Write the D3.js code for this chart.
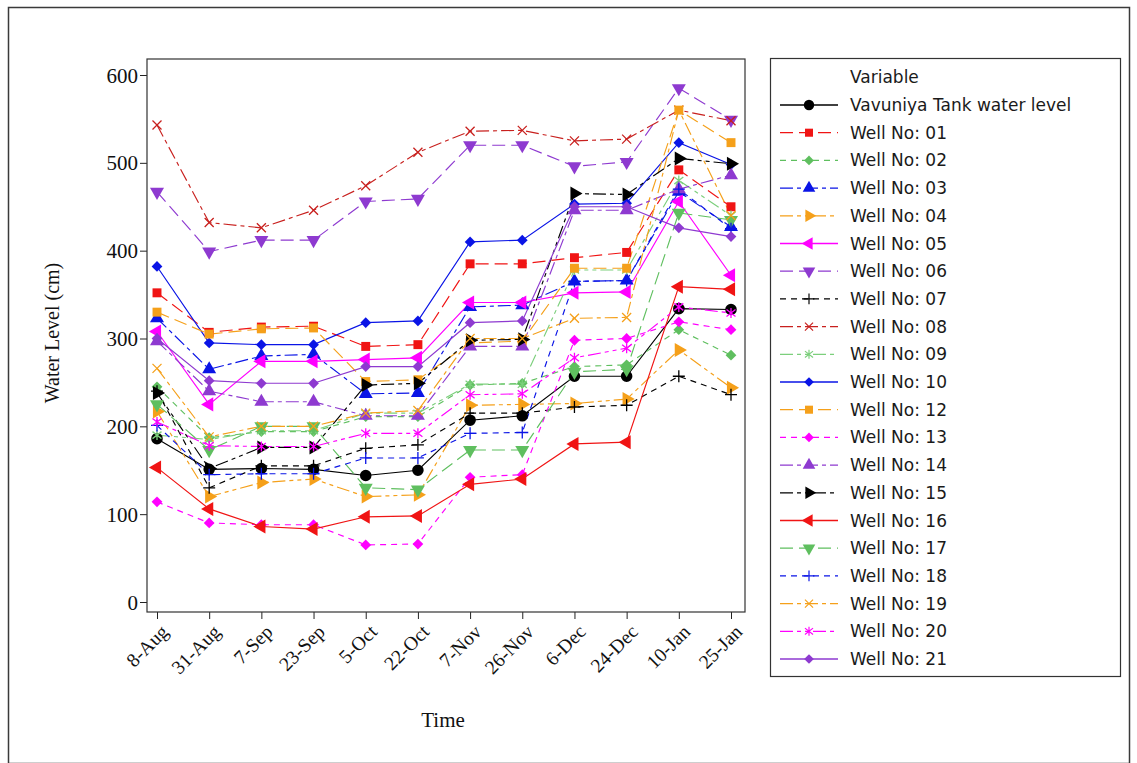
<!DOCTYPE html>
<html>
<head>
<meta charset="utf-8">
<script src="https://cdn.jsdelivr.net/npm/d3@7"></script>
<style>
  body { margin: 0; background: #fff; }
  svg { display: block; }
</style>
</head>
<body>
<svg id="chart" width="1137" height="763"></svg>
<script>
// sampling dates
const dates = ['8-Aug', '31-Aug', '7-Sep', '23-Sep', '5-Oct', '22-Oct', '7-Nov', '26-Nov', '6-Dec', '24-Dec', '10-Jan', '25-Jan'];
const yTicks = [0, 100, 200, 300, 400, 500, 600];

// water levels (cm)
const tank   = [186, 151, 152, 151, 144, 150, 207, 212, 257, 257, 334, 333];
const well01 = [352, 307, 313, 314, 291, 293, 385, 385, 392, 398, 492, 450];
const well02 = [245, 187, 194, 194, 211, 211, 247, 249, 268, 270, 310, 281];
const well03 = [323, 265, 280, 282, 237, 238, 336, 338, 365, 366, 467, 427];
const well04 = [217, 120, 136, 140, 120, 122, 224, 225, 226, 231, 287, 244];
const well05 = [308, 225, 274, 274, 276, 278, 341, 341, 352, 353, 456, 372];
const well06 = [467, 399, 412, 412, 456, 459, 520, 520, 496, 501, 585, 549];
const well07 = [240, 130, 155, 155, 175, 179, 215, 215, 222, 224, 257, 236];
const well08 = [543, 432, 426, 446, 474, 512, 536, 537, 525, 527, 560, 548];
const well09 = [190, 185, 195, 195, 215, 215, 248, 248, 378, 378, 480, 440];
const well10 = [382, 295, 293, 293, 318, 320, 410, 412, 453, 454, 523, 498];
const well12 = [330, 305, 311, 312, 251, 253, 295, 297, 380, 380, 560, 523];
const well13 = [114, 90, 88, 88, 65, 66, 142, 145, 298, 300, 319, 310];
const well14 = [297, 240, 228, 228, 212, 212, 291, 291, 446, 446, 470, 486];
const well15 = [238, 152, 176, 176, 247, 249, 298, 299, 465, 464, 505, 499];
const well16 = [153, 106, 86, 83, 97, 98, 134, 140, 180, 182, 359, 356];
const well17 = [225, 173, 200, 200, 130, 128, 173, 173, 262, 265, 443, 435];
const well18 = [201, 145, 146, 146, 164, 164, 192, 193, 365, 366, 470, 425];
const well19 = [266, 188, 200, 200, 215, 218, 300, 300, 323, 324, 560, 440];
const well20 = [205, 178, 177, 177, 192, 192, 236, 237, 278, 289, 336, 329];
const well21 = [300, 252, 249, 249, 268, 268, 318, 320, 450, 450, 426, 416];

const C = {
    black: '#000000', red: '#f01414', dred: '#c8201e', green: '#5fbf5f', lgreen: '#7ccf7c',
    blue: '#0a14e6', orange: '#f5a01a', magenta: '#ff00ff', purple: '#8e3ad0'
};
const DASH = {
    solid: null, long: '13,6', short: '6,5', dashDot: '13,4,4,4', dashDotDot: '13,4,4,4,4,4'
};

const series = [
    {name: 'Vavuniya Tank water level', values: tank, color: C.black, dash: 'solid', shape: 'circle'},
    {name: 'Well No: 01', values: well01, color: C.red, dash: 'long', shape: 'square'},
    {name: 'Well No: 02', values: well02, color: C.green, dash: 'short', shape: 'diamond'},
    {name: 'Well No: 03', values: well03, color: C.blue, dash: 'dashDot', shape: 'triUp'},
    {name: 'Well No: 04', values: well04, color: C.orange, dash: 'dashDotDot', shape: 'triRight'},
    {name: 'Well No: 05', values: well05, color: C.magenta, dash: 'solid', shape: 'triLeft'},
    {name: 'Well No: 06', values: well06, color: C.purple, dash: 'long', shape: 'triDown'},
    {name: 'Well No: 07', values: well07, color: C.black, dash: 'short', shape: 'plus'},
    {name: 'Well No: 08', values: well08, color: C.dred, dash: 'dashDot', shape: 'x'},
    {name: 'Well No: 09', values: well09, color: C.lgreen, dash: 'dashDotDot', shape: 'star'},
    {name: 'Well No: 10', values: well10, color: C.blue, dash: 'solid', shape: 'diamond'},
    {name: 'Well No: 12', values: well12, color: C.orange, dash: 'long', shape: 'square'},
    {name: 'Well No: 13', values: well13, color: C.magenta, dash: 'short', shape: 'diamond'},
    {name: 'Well No: 14', values: well14, color: C.purple, dash: 'dashDot', shape: 'triUp'},
    {name: 'Well No: 15', values: well15, color: C.black, dash: 'dashDotDot', shape: 'triRight'},
    {name: 'Well No: 16', values: well16, color: C.red, dash: 'solid', shape: 'triLeft'},
    {name: 'Well No: 17', values: well17, color: C.green, dash: 'long', shape: 'triDown'},
    {name: 'Well No: 18', values: well18, color: C.blue, dash: 'short', shape: 'plus'},
    {name: 'Well No: 19', values: well19, color: C.orange, dash: 'dashDot', shape: 'x'},
    {name: 'Well No: 20', values: well20, color: C.magenta, dash: 'dashDotDot', shape: 'star'},
    {name: 'Well No: 21', values: well21, color: C.purple, dash: 'solid', shape: 'diamond'}
];

const svg = d3.select('#chart');
const frame = {left: 147, right: 745, top: 59, bottom: 612};

// outer border
svg.append('rect').attr('x', 8.5).attr('y', 7.5).attr('width', 1121).attr('height', 756)
    .attr('fill', 'none').attr('stroke', '#3a3a3a').attr('stroke-width', 1.5);

const x = d3.scalePoint().domain(dates).range([157, 731]);
const y = d3.scaleLinear().domain([0, 600]).range([602, 75]);

// axes
const yAxis = svg.append('g').attr('transform', 'translate(' + frame.left + ',0)')
    .call(d3.axisLeft(y).tickValues(yTicks).tickSize(7).tickSizeOuter(0));
yAxis.select('.domain').remove();
yAxis.selectAll('line').attr('stroke', '#222');
yAxis.selectAll('text').attr('font-family', '"Liberation Serif", serif').attr('font-size', 21)
    .attr('fill', '#111').attr('x', -9).attr('dy', '0.34em');

const xAxis = svg.append('g').attr('transform', 'translate(0,' + frame.bottom + ')')
    .call(d3.axisBottom(x).tickSize(7).tickSizeOuter(0));
xAxis.select('.domain').remove();
xAxis.selectAll('line').attr('stroke', '#222');
xAxis.selectAll('text').attr('font-family', '"Liberation Serif", serif').attr('font-size', 19.5)
    .attr('fill', '#111').attr('text-anchor', 'end').attr('dy', 0).attr('y', 0)
    .attr('transform', 'translate(12,21) rotate(-45)');

svg.append('rect').attr('x', frame.left).attr('y', frame.top)
    .attr('width', frame.right - frame.left).attr('height', frame.bottom - frame.top)
    .attr('fill', 'none').attr('stroke', '#333').attr('stroke-width', 1.2);

svg.append('text').attr('x', 443).attr('y', 727).attr('text-anchor', 'middle')
    .attr('font-family', '"Liberation Serif", serif').attr('font-size', 21).attr('fill', '#111').text('Time');
svg.append('text').attr('transform', 'translate(59,333) rotate(-90)').attr('text-anchor', 'middle')
    .attr('font-family', '"Liberation Serif", serif').attr('font-size', 20).attr('fill', '#111').text('Water Level (cm)');

// marker shapes
function drawMarker(g, shape, color, k) {
    const s = k || 1;
    if (shape === 'plus' || shape === 'x' || shape === 'star') {
        let d;
        if (shape === 'plus') d = 'M-6,0H6M0,-6V6';
        else if (shape === 'x') d = 'M-4.5,-4.5L4.5,4.5M-4.5,4.5L4.5,-4.5';
        else d = 'M-4.5,-3.5L4.5,3.5M-4.5,3.5L4.5,-3.5M0,-5V5';
        g.append('path').attr('d', d).attr('transform', 'scale(' + s + ')')
            .attr('fill', 'none').attr('stroke', color).attr('stroke-width', 1.3);
        return;
    }
    let type = d3.symbolTriangle, size = 85, rot = 0;
    if (shape === 'circle') { type = d3.symbolCircle; size = 105; }
    if (shape === 'square') { type = d3.symbolSquare; size = 80; }
    if (shape === 'diamond') { type = d3.symbolSquare; size = 58; rot = 45; }
    if (shape === 'triRight') rot = 90;
    if (shape === 'triDown') rot = 180;
    if (shape === 'triLeft') rot = -90;
    g.append('path').attr('d', d3.symbol(type, size * s * s)())
        .attr('transform', 'rotate(' + rot + ')').attr('fill', color);
}

const line = d3.line().x((d, i) => x(dates[i])).y(d => y(d));
const plot = svg.append('g');

series.forEach(function (s) {
    plot.append('path').datum(s.values).attr('d', line)
        .attr('fill', 'none').attr('stroke', s.color).attr('stroke-width', 1.15)
        .attr('stroke-dasharray', DASH[s.dash]);
});
series.forEach(function (s) {
    s.values.forEach(function (v, i) {
        const g = plot.append('g').attr('transform', 'translate(' + x(dates[i]) + ',' + y(v) + ')');
        drawMarker(g, s.shape, s.color, 1);
    });
});

// legend
const legend = svg.append('g');
legend.append('rect').attr('x', 770.5).attr('y', 58.5).attr('width', 350).attr('height', 618)
    .attr('fill', '#fff').attr('stroke', '#333').attr('stroke-width', 1.2);
legend.append('text').attr('x', 850).attr('y', 83).attr('font-family', '"DejaVu Sans", sans-serif')
    .attr('font-size', 17).attr('fill', '#1a1a1a').text('Variable');
series.forEach(function (s, i) {
    const ly = 105 + i * 27.7;
    const g = legend.append('g').attr('transform', 'translate(0,' + ly + ')');
    g.append('line').attr('x1', 780).attr('x2', 838).attr('y1', 0).attr('y2', 0)
        .attr('stroke', s.color).attr('stroke-width', 1.3).attr('stroke-dasharray', DASH[s.dash]);
    drawMarker(g.append('g').attr('transform', 'translate(809,0)'), s.shape, s.color, 0.9);
    g.append('text').attr('x', 850).attr('y', 6).attr('font-family', '"DejaVu Sans", sans-serif')
        .attr('font-size', 17).attr('fill', '#1a1a1a').text(s.name);
});
</script>
</body>
</html>
